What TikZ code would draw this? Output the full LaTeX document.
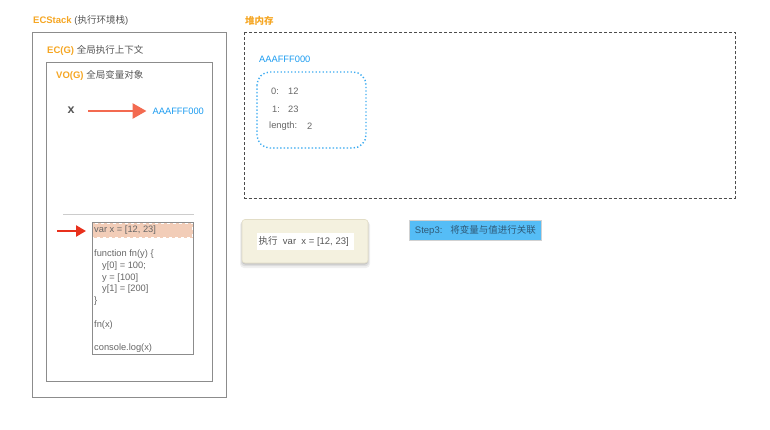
\documentclass[tikz,border=0pt]{standalone}
\usepackage{fontspec}
\setmainfont{Liberation Sans}
\newfontfamily\cjk{Noto Sans CJK SC}
\usetikzlibrary{arrows.meta}
\definecolor{orng}{HTML}{F5A623}
\definecolor{txtgray}{HTML}{555555}
\definecolor{codegray}{HTML}{666666}
\definecolor{boxgray}{HTML}{8C8C8C}
\definecolor{addrblue}{HTML}{1A9BF0}
\definecolor{dotblue}{HTML}{3AAAF0}
\definecolor{coral}{HTML}{F36A50}
\definecolor{redarrow}{HTML}{E8301C}
\definecolor{hilite}{HTML}{F2CDB8}
\definecolor{paper}{HTML}{F4F1DF}
\definecolor{paperedge}{HTML}{E2DDC6}
\definecolor{stepblue}{HTML}{55BDF6}
\definecolor{steptext}{HTML}{2F5A78}
\tikzset{
  lbl/.style={inner sep=0pt, anchor=west, font=\fontsize{9.5}{11}\selectfont, text=txtgray},
  codeline/.style={inner sep=0pt, anchor=west, font=\fontsize{9.3}{11}\selectfont, text=codegray},
  frame/.style={draw=boxgray, line width=0.8pt},
  addr/.style={inner sep=0pt, anchor=west, font=\fontsize{9.3}{11}\selectfont, text=addrblue},
}
\begin{document}
\begin{tikzpicture}[x=1pt,y=-1pt]
\useasboundingbox (0,0) rectangle (770,430);
% ECStack
\node[lbl] (ecslbl) at (33,20.5) {\textcolor{orng}{\bfseries ECStack} ({\cjk 执行环境栈})};
\draw[frame] (32,32) rectangle (226,397);
\node[lbl] (eclbl) at (47,50.5) {\textcolor{orng}{\bfseries EC(G)} {\cjk 全局执行上下文}};
\draw[frame] (46.5,62) rectangle (212,381);
\node[lbl] (volbl) at (56,75.5) {\textcolor{orng}{\bfseries VO(G)} {\cjk 全局变量对象}};
% x -> address
\node[lbl, font=\fontsize{12.5}{14}\selectfont\bfseries] (x) at (67.5,110.5) {x};
\node[addr] (addr1) at (152.5,111) {AAAFFF000};
\coordinate (a1s) at (88,111);
\draw[coral, line width=2.8pt, -{Triangle[length=14pt,width=15pt]}] (a1s) -- ([xshift=-6pt]addr1.west);
% separator
\draw[black!20, line width=0.8pt] (63,214) -- (194,214);
% code box
\fill[hilite] (92,223) rectangle (193,237.5);
\draw[white, dashed, line width=0.6pt] (92.5,223.5) rectangle (192.5,237);
\draw[draw=boxgray, line width=0.7pt] (92,222.5) rectangle (193,354);
\node[codeline] (c1) at (94,230.5) {var x = [12, 23]};
\node[codeline] (c2) at (94,254) {function fn(y) \{};
\node[codeline] (c3) at (102,266) {y[0] = 100;};
\node[codeline] (c4) at (102,278) {y = [100]};
\node[codeline] (c5) at (102,289.5) {y[1] = [200]};
\node[codeline] (c6) at (94,301.5) {\}};
\node[codeline] (c7) at (94,325) {fn(x)};
\node[codeline] (c8) at (94,348.5) {console.log(x)};
\coordinate (ra) at (57,231);
\coordinate (rb) at (86,231);
\draw[redarrow, line width=2.6pt, -{Triangle[length=10pt,width=11pt]}] (ra) -- (rb);
% heap
\node[lbl] (heaplbl) at (245,21) {\textcolor{orng}{\cjk\bfseries 堆内存}};
\draw[txtgray!90!black, dash pattern=on 3pt off 2pt, line width=0.8pt] (244,32.5) rectangle (735,198);
\node[addr] (addr2) at (259,59.5) {AAAFFF000};
\draw[dotblue, line width=1.4pt, dash pattern=on 1.3pt off 2.2pt, rounded corners=13pt] (257,72) rectangle (366,148);
\node[codeline] (h0) at (271,91.5) {0:};
\node[codeline] (h0v) at (288,91.5) {12};
\node[codeline] (h1) at (272,109) {1:};
\node[codeline] (h1v) at (288,109) {23};
\node[codeline] (h2) at (269,126.5) {length:};
\node[codeline] (h2v) at (307,126.5) {2};
% note
\fill[black, opacity=0.06, rounded corners=4pt] (240,221) rectangle (370,268);
\fill[black, opacity=0.08, rounded corners=3pt] (241,221) rectangle (369,266);
\fill[black, opacity=0.10, rounded corners=3pt] (242,222) rectangle (368,264.5);
\draw[paperedge, fill=paper, rounded corners=3pt, line width=0.6pt] (242,219.5) rectangle (368,263);
\fill[white] (256.5,233) rectangle (353.5,250);
\node[lbl, text=txtgray] (note) at (258.5,241.5) {{\cjk 执行}\ \ var\ \ x = [12, 23]};
% step3
\node[draw=black!18, fill=stepblue, line width=0.8pt, inner sep=0pt, minimum width=132pt, minimum height=20pt, anchor=north west, text=steptext, font=\fontsize{9.5}{11}\selectfont] (step) at (409,220) {Step3:\ \ \ {\cjk 将变量与值进行关联}};
\end{tikzpicture}
\end{document}
